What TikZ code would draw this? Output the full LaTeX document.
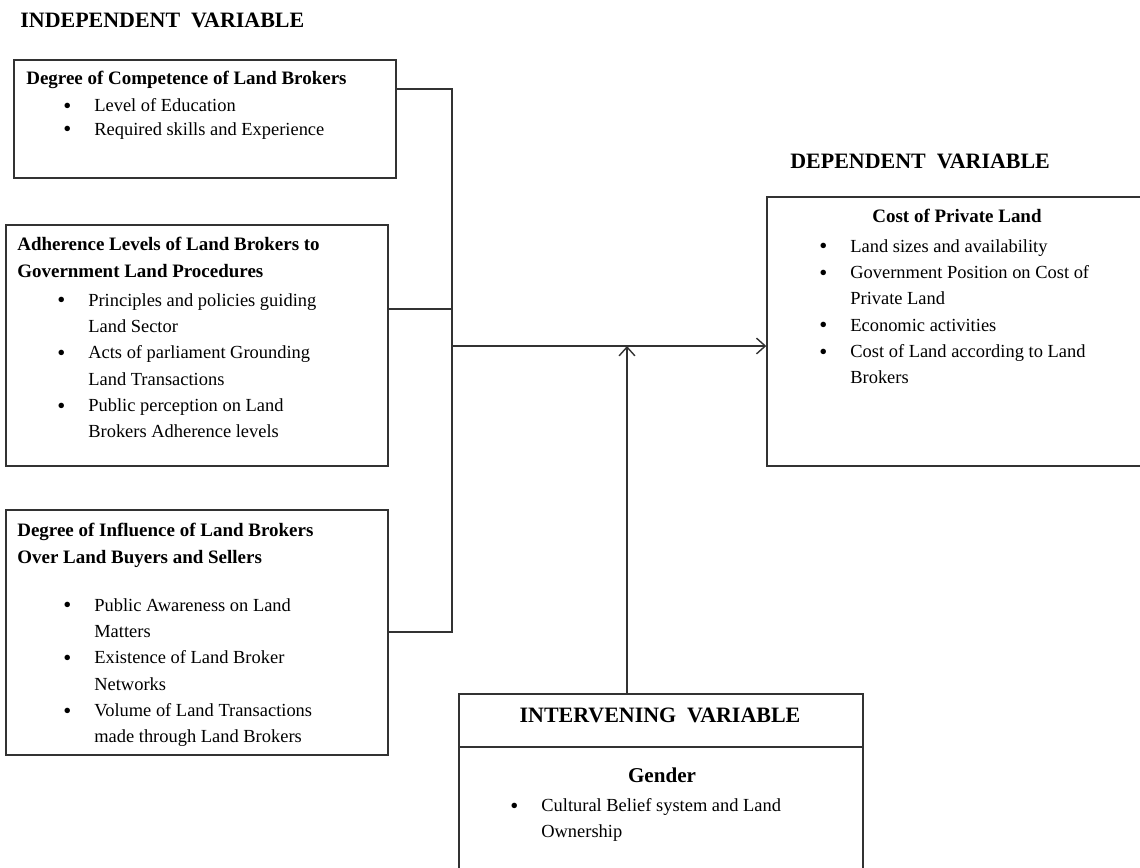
\documentclass[tikz,border=0pt]{standalone}
\usepackage{fontspec}
\setmainfont{Liberation Serif}
\usepackage{tikz}
\usetikzlibrary{arrows.meta, positioning, fit, calc}
\definecolor{framegray}{RGB}{50,50,50}
\newcommand{\bul}{\makebox[0.62cm][l]{\raisebox{-0.2ex}{\fontsize{13}{0}\selectfont\textbullet}}}
\newcommand{\ind}{\hspace*{0.62cm}}
\tikzset{
    frame/.style={rectangle, draw=framegray, line width=0.8pt, inner sep=0pt},
    heading/.style={font=\fontsize{12.5}{14}\selectfont\bfseries, inner sep=0pt},
    boxtitle/.style={font=\fontsize{10.8}{15.3}\selectfont\bfseries, align=left, inner sep=0pt, anchor=north west},
    items/.style={font=\fontsize{10.5}{15}\selectfont, align=left, inner sep=0pt, anchor=north west},
    link/.style={draw=framegray, line width=0.8pt},
    arrow/.style={link, -{Straight Barb[length=5pt, width=9pt]}}
}

\begin{document}
\begin{tikzpicture}[x=0.02cm, y=-0.02cm]
    \useasboundingbox (0,0) rectangle (1140,867);

    % Headings
    \node[heading, anchor=base west] (indep) at (20,27) {INDEPENDENT\ \ VARIABLE};
    \node[heading, anchor=base west] (depend) at (790,168) {DEPENDENT\ \ VARIABLE};

    % Independent variable boxes
    \node[frame, fit={(14,60) (396,178)}] (comp) {};
    \node[boxtitle] (comptitle) at (26,71) {Degree of Competence of Land Brokers};
    \node[items, font=\fontsize{10.5}{13.6}\selectfont] (compitems) at (63,98)
        {\bul Level of Education\\ \bul Required skills and Experience};

    \node[frame, fit={(6,225) (388,466)}] (adh) {};
    \node[boxtitle] (adhtitle) at (17,237)
        {Adherence Levels of Land Brokers to\\ Government Land Procedures};
    \node[items] (adhitems) at (57,293)
        {\bul Principles and policies guiding\\ \ind Land Sector\\
         \bul Acts of parliament Grounding\\ \ind Land Transactions\\
         \bul Public perception on Land\\ \ind Brokers Adherence levels};

    \node[frame, fit={(6,510) (388,755)}] (infl) {};
    \node[boxtitle] (infltitle) at (17,523)
        {Degree of Influence of Land Brokers\\ Over Land Buyers and Sellers};
    \node[items] (inflitems) at (63,598)
        {\bul Public Awareness on Land\\ \ind Matters\\
         \bul Existence of Land Broker\\ \ind Networks\\
         \bul Volume of Land Transactions\\ \ind made through Land Brokers};

    % Dependent variable box
    \node[frame, fit={(767,197) (1150,466)}] (dep) {};
    \node[boxtitle, anchor=north] (deptitle) at (957,209) {Cost of Private Land};
    \node[items] (depitems) at (819,239)
        {\bul Land sizes and availability\\
         \bul Government Position on Cost of\\ \ind Private Land\\
         \bul Economic activities\\
         \bul Cost of Land according to Land\\ \ind Brokers};

    % Intervening variable box
    \node[frame, fit={(459,694) (863,880)}] (interv) {};
    \coordinate (divider) at (661,747);
    \draw[link] (interv.west |- divider) -- (interv.east |- divider);
    \node[heading, anchor=base] (intervhead) at (660,722) {INTERVENING\ \ VARIABLE};
    \node[boxtitle, anchor=north, font=\fontsize{12}{14}\selectfont\bfseries] (gender) at (662,768) {Gender};
    \node[items] (intervitems) at (510,798)
        {\bul Cultural Belief system and Land\\ \ind Ownership};

    % Connectors
    \coordinate (top) at (452,89);
    \coordinate (mid) at (452,309);
    \coordinate (bot) at (452,632);
    \coordinate (bus) at (452,346);
    \coordinate (meet) at (627,346);
    \draw[link] (comp.east |- top) -- (top) -- (bot) -- (infl.east |- bot);
    \draw[link] (adh.east |- mid) -- (mid);
    \draw[arrow] (bus) -- (dep.west |- bus);
    \draw[arrow] (interv.north -| meet) -- (meet);
\end{tikzpicture}
\end{document}
